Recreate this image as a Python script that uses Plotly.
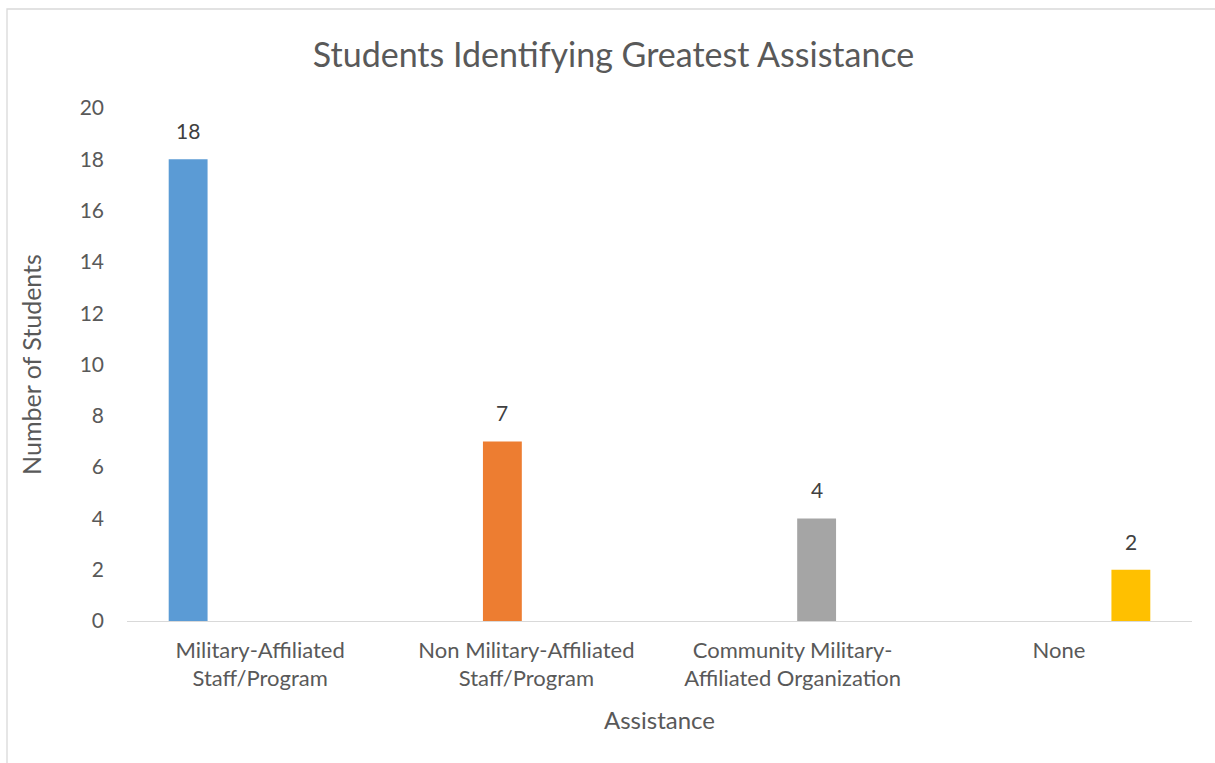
import plotly.graph_objects as go

categories = [
    "Military-Affiliated<br>Staff/Program",
    "Non Military-Affiliated<br>Staff/Program",
    "Community Military-<br>Affiliated Organization",
    "None",
]
counts = [18, 7, 4, 2]
colors = ["#5B9BD5", "#ED7D31", "#A5A5A5", "#FFC000"]
y_ticks = list(range(0, 21, 2))

FONT = "Lato, Carlito, Calibri, sans-serif"
TEXT = "#595959"

BARGAP, GROUPGAP = 0.279, 0.19
n = len(categories)

fig = go.Figure()
# One series per category, so each bar keeps its own slot in the group
for i, (cat, val, col) in enumerate(zip(categories, counts, colors)):
    yvals = [val if j == i else None for j in range(n)]
    fig.add_trace(go.Bar(
        x=categories, y=yvals, marker=dict(color=col, line=dict(width=0)),
        showlegend=False, hoverinfo="skip",
    ))

# Value labels above each bar, placed at that bar's slot inside its group
slot = (1 - BARGAP) / n
annotations = []
for i, val in enumerate(counts):
    offset = -(1 - BARGAP) / 2 + slot * (i + 0.5)
    annotations.append(dict(
        x=i + offset, y=val, xref="x", yref="y", text=str(val),
        showarrow=False, yanchor="bottom", yshift=14,
        font=dict(family=FONT, size=21, color="#404040"),
    ))

W, H = 1215, 763
L, R, T, B = 127, 23, 108, 142
pw, ph = W - L - R, H - T - B

def px(x):
    return (x - L) / pw

def py(y):
    return (H - B - y) / ph

fig.update_layout(
    width=W, height=H,
    margin=dict(l=L, r=R, t=T, b=B, autoexpand=False),
    paper_bgcolor="white", plot_bgcolor="white",
    barmode="group", bargap=BARGAP, bargroupgap=GROUPGAP,
    font=dict(family=FONT, color=TEXT),
    title=dict(text="Students Identifying Greatest Assistance",
               font=dict(family=FONT, size=34, color=TEXT),
               x=0.505, xanchor="center", y=1 - 55 / H, yanchor="middle"),
    xaxis=dict(
        showline=True, linecolor="#D9D9D9", linewidth=1.3,
        showgrid=False, ticks="", tickfont=dict(family=FONT, size=22, color=TEXT),
        ticklabelstandoff=9,
        title=dict(text="Assistance", font=dict(family=FONT, size=24, color=TEXT), standoff=22),
    ),
    yaxis=dict(
        range=[0, 20], tickvals=y_ticks, showline=False, showgrid=False,
        zeroline=False, ticks="", tickfont=dict(family=FONT, size=21, color=TEXT),
        ticklabelstandoff=22,
        title=dict(text="Number of Students", font=dict(family=FONT, size=25, color=TEXT), standoff=30),
    ),
    annotations=annotations,
    shapes=[dict(type="rect", xref="paper", yref="paper",
                 x0=px(7), x1=px(W + 5), y0=py(H + 5), y1=py(9),
                 line=dict(color="#D9D9D9", width=1.3), fillcolor="rgba(0,0,0,0)", layer="below")],
)

fig.write_html("out.html")
